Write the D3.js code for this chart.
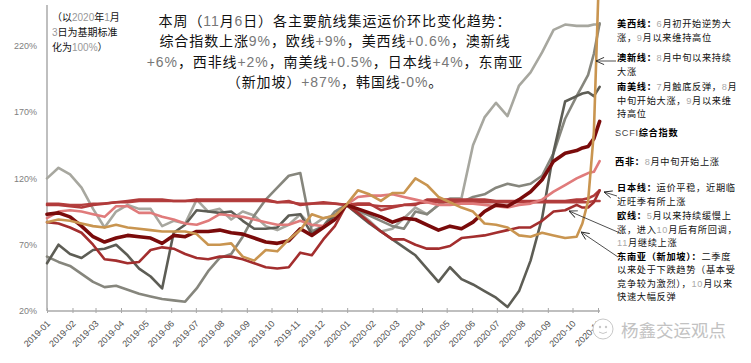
<!DOCTYPE html>
<html>
<head>
<meta charset="utf-8">
<script src="https://cdn.jsdelivr.net/npm/d3@7"></script>
<style>
  body { margin: 0; background: #fff; }
  svg { display: block; }
</style>
</head>
<body>
<svg width="751" height="363"></svg>
<script>
// 周度数据（两周取一点，最后四周逐周），以2020-01-03为100
const dates = d3.range(47)
  .map(i => d3.timeDay.offset(new Date(2019, 0, 4), i * 14))
  .concat([new Date(2020, 9, 16), new Date(2020, 9, 23), new Date(2020, 9, 30), new Date(2020, 10, 6)]);

const usWest = [120,128,123,113,97,83,95,100,97,97,84,88,86,104,95,97,89,95,92,84,81,85,93,84,90,92,
  100,95,88,80,82,90,98,93,100,105,105,145,166,177,167,190,200,215,232,236,235,235,235,236,236];
const ausNz = [61,57,54,48,42,38,39,36,33,31,29,28,27,37,50,60,63,76,92,104,113,122,124,80,84,95,
  100,96,92,88,84,82,95,93,100,104,102,106,108,113,116,114,116,122,139,165,182,190,198,214,237];
const southAm = [56,70,63,60,66,67,70,62,52,46,37,79,85,96,95,94,95,88,82,82,83,92,93,78,84,92,
  100,93,86,80,74,68,62,52,42,53,44,40,35,30,23,35,58,90,140,178,182,184,185,182,189];
const korea = [101,101,100,100,101,101,102,102,103,103,103,103,103,103,103,103,103,103,103,103,102,102,101,101,101,101,
  100,100,100,99,99,100,101,102,102,102,102,102,102,102,102,102,102,102,102,102,102,102,102,103,103];
const japan = [100,100,99,98,100,101,102,103,104,104,104,103,103,104,104,104,104,104,104,104,102,103,100,101,102,101,
  100,101,101,96,98,100,100,104,104,104,104,104,104,103,103,103,103,103,103,103,104,104,105,107,111];
const europe = [87,86,83,79,70,59,58,56,57,66,68,67,63,60,59,61,61,59,56,53,52,53,64,62,74,84,
  100,94,87,80,74,74,70,67,67,69,75,76,77,79,81,83,83,88,95,96,100,98,98,102,111];
const westAf = [90,95,96,95,93,91,99,99,94,94,91,89,86,85,88,93,92,91,89,87,85,85,88,85,84,89,
  100,106,107,107,108,106,104,102,100,100,101,101,100,99,98,100,101,104,110,115,120,122,124,125,133];
const scfi = [93,94,91,84,76,72,75,77,76,75,71,77,76,80,80,81,79,78,75,72,71,73,82,77,83,89,
  100,97,94,91,87,90,89,85,81,84,82,87,95,100,99,104,110,119,133,139,141,143,144,150,163];
const seAsia = [87,89,88,86,84,83,85,83,82,81,80,80,80,78,70,70,71,61,58,66,65,74,81,93,90,92,
  100,111,108,103,109,109,120,115,106,102,98,95,86,85,83,77,76,79,77,75,76,86,103,155,290];

const seriesNames = ['美西线', '澳新线', '南美线', '韩国线', '日本线', '欧线', '西非线', 'SCFI综合指数', '东南亚'];
const seriesValues = [usWest, ausNz, southAm, korea, japan, europe, westAf, scfi, seAsia];
const seriesColors = ['#a7a79f', '#86867d', '#5d5d55', '#b4403f', '#b13b3b', '#a32e2e', '#e07b7b', '#7a0b0b', '#c99550'];
const seriesWidths = [2.6, 2.6, 2.6, 2.4, 2.6, 2.6, 2.6, 3.6, 2.6];

const yTicks = [20, 70, 120, 170, 220];
const monthTicks = d3.range(23).map(i => new Date(2019, i, 4));

const titleLines = [
  '本周（11月6日）各主要航线集运运价环比变化趋势：',
  '综合指数上涨9%，欧线+9%，美西线+0.6%，澳新线',
  '+6%，西非线+2%，南美线+0.5%，日本线+4%，东南亚',
  '（新加坡）+87%，韩国线-0%。'
];
const baseNote = ['（以2020年1月', '3日为基期标准', '化为100%）'];

const notes = [
  ['美西线：', '6月初开始逆势大', '涨，9月以来维持高位'],
  ['澳新线：', '8月中旬以来持续', '大涨'],
  ['南美线：', '7月触底反弹，8月', '中旬开始大涨，9月以来维', '持高位'],
  ['SCFI综合指数', ''],
  ['西非：', '8月中旬开始上涨'],
  ['日本线：', '运价平稳，近期临', '近旺季有所上涨'],
  ['欧线：', '5月以来持续缓慢上', '涨，进入10月后有所回调，', '11月继续上涨'],
  ['东南亚（新加坡）：', '二季度', '以来处于下跌趋势（基本受', '竞争较为激烈），10月以来', '快速大幅反弹']
];
const noteTops = [27, 61, 90, 136, 165, 191, 219, 259.5];
const noteGap = 13.5;
const noteX = [617, 617, 617, 615, 615, 617, 617, 617];
// 箭头：[尾x, 尾y, 头x, 头y]
const arrows = [[616, 61, 596, 61], [617, 196, 604, 192], [620, 233, 569, 211], [618, 257, 581, 232]];

const CJK = "'Noto Sans CJK SC', sans-serif";
const LATIN = "'Liberation Sans Narrow', 'Liberation Sans', sans-serif";

const svg = d3.select('svg');

const x = d3.scaleTime()
  .domain([new Date(2019, 0, 4), new Date(2020, 10, 4)])
  .range([47, 598]);
const y = d3.scaleLinear().domain([20, 250]).range([311, 6]);

// 中英文混排：数字和符号用浅灰色
function richText(text, str, ascFill, cjkFill, weight) {
  str.split(/([\x20-\x7E]+)/).filter(s => s.length).forEach(part => {
    const asc = /^[\x20-\x7E]+$/.test(part);
    text.append('tspan')
      .style('font-family', asc ? LATIN : CJK)
      .style('font-weight', asc ? 'normal' : weight)
      .attr('fill', asc ? ascFill : cjkFill)
      .text(part);
  });
}

// y 轴
svg.append('g')
  .attr('transform', 'translate(47,0)')
  .call(d3.axisLeft(y).tickValues(yTicks).tickFormat(d => d + '%').tickSize(0).tickPadding(10))
  .call(g => {
    g.select('.domain').remove();
    g.selectAll('text')
      .style('font-family', "'Liberation Sans', sans-serif")
      .style('font-size', '9px')
      .attr('fill', '#808080');
  });

// x 轴
svg.append('g')
  .attr('transform', 'translate(0,311)')
  .call(d3.axisBottom(x).tickValues(monthTicks).tickFormat(d3.timeFormat('%Y-%m')).tickSize(-4))
  .call(g => {
    g.select('.domain').remove();
    g.selectAll('.tick line').attr('stroke', '#a6a6a6').attr('y2', 2).attr('y1', -3);
    g.selectAll('text')
      .attr('x', 0)
      .attr('y', 0)
      .attr('dy', '0.35em')
      .attr('text-anchor', 'end')
      .attr('transform', 'translate(1,11) rotate(-45)')
      .style('font-family', "'Liberation Sans', sans-serif")
      .style('font-size', '9px')
      .attr('fill', '#505050');
  });

svg.append('line')
  .attr('x1', 47).attr('x2', 600).attr('y1', 311).attr('y2', 311)
  .attr('stroke', '#aaaaaa').attr('stroke-width', 1.5);
svg.append('line')
  .attr('x1', 47).attr('x2', 47).attr('y1', 5).attr('y2', 311)
  .attr('stroke', '#aaaaaa').attr('stroke-width', 1.5);

// 折线
const line = d3.line()
  .x((d, i) => x(dates[i]))
  .y(d => y(d));

svg.append('g')
  .selectAll('path')
  .data(seriesValues)
  .enter()
  .append('path')
  .attr('d', d => line(d))
  .attr('fill', 'none')
  .attr('stroke', (d, i) => seriesColors[i])
  .attr('stroke-width', (d, i) => seriesWidths[i])
  .attr('stroke-linejoin', 'round')
  .attr('stroke-linecap', 'round');

// 标题
titleLines.forEach((s, i) => {
  const t = svg.append('text')
    .attr('x', 335)
    .attr('y', 25.5 + i * 20.5)
    .attr('text-anchor', 'middle')
    .style('font-size', '14px')
    .style('letter-spacing', '0.9px');
  richText(t, s, '#777', '#111', 'normal');
});

// 左上角说明
baseNote.forEach((s, i) => {
  const t = svg.append('text')
    .attr('x', 52)
    .attr('y', 21 + i * 15)
    .style('font-size', '10px');
  richText(t, s, '#999', '#111', 'normal');
});

// 右侧注释
notes.forEach((n, i) => {
  n.slice(1).forEach((s, j) => {
    const t = svg.append('text')
      .attr('x', noteX[i])
      .attr('y', noteTops[i] + j * noteGap)
      .style('font-size', '9.2px')
      .style('letter-spacing', '0.7px');
    if (j === 0) richText(t, n[0], '#444', '#000', 'bold');
    richText(t, s, '#aaa', '#111', 'normal');
  });
});

// 箭头
svg.append('defs')
  .append('marker')
  .attr('id', 'arr')
  .attr('viewBox', '-10 -5 10 10')
  .attr('refX', 0)
  .attr('refY', 0)
  .attr('markerWidth', 9)
  .attr('markerHeight', 9)
  .attr('markerUnits', 'userSpaceOnUse')
  .attr('orient', 'auto')
  .append('path')
  .attr('d', 'M-9,-4L0,0L-9,4')
  .attr('fill', 'none')
  .attr('stroke', '#222')
  .attr('stroke-width', 1);

svg.append('g')
  .selectAll('line')
  .data(arrows)
  .enter()
  .append('line')
  .attr('x1', d => d[0]).attr('y1', d => d[1])
  .attr('x2', d => d[2]).attr('y2', d => d[3])
  .attr('stroke', '#222')
  .attr('stroke-width', 0.8)
  .attr('marker-end', 'url(#arr)');

// 水印
const logo = svg.append('g').attr('transform', 'translate(603,329)');
logo.append('circle').attr('r', 10).attr('fill', '#fff').attr('stroke', '#c8c8c8').attr('stroke-width', 1);
logo.append('circle').attr('cx', -3).attr('cy', -2).attr('r', 1.2).attr('fill', '#c8c8c8');
logo.append('circle').attr('cx', 3).attr('cy', -2).attr('r', 1.2).attr('fill', '#c8c8c8');
logo.append('path').attr('d', 'M-4,3 Q0,6 4,3').attr('fill', 'none').attr('stroke', '#c8c8c8');
svg.append('text')
  .attr('x', 621)
  .attr('y', 337)
  .style('font-family', CJK)
  .style('font-size', '17.5px')
  .attr('fill', '#c2c2c2')
  .text('杨鑫交运观点');
</script>
</body>
</html>
